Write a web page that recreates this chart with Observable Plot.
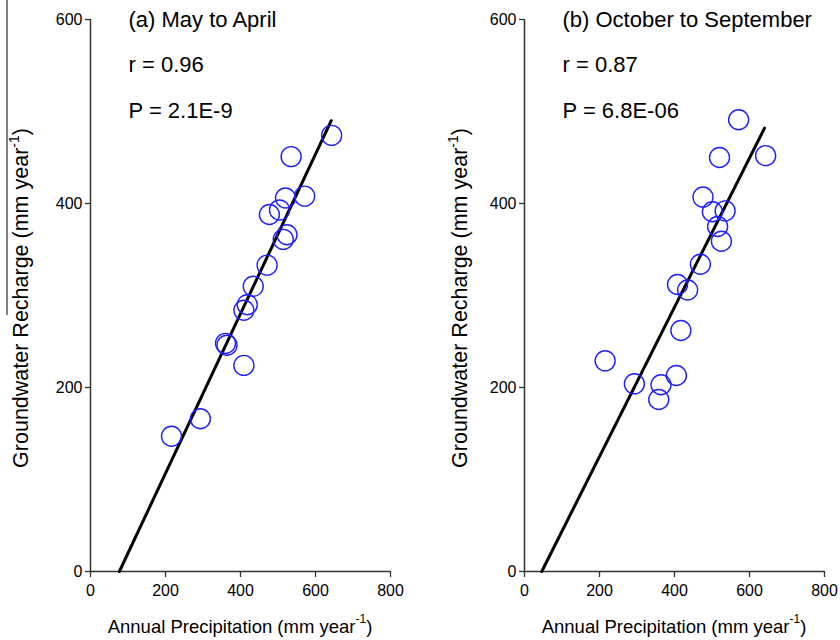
<!DOCTYPE html>
<html>
<head>
<meta charset="utf-8">
<script src="https://cdn.jsdelivr.net/npm/d3@7"></script>
<script src="https://cdn.jsdelivr.net/npm/@observablehq/plot@0.6"></script>
<style>
  html, body { margin: 0; padding: 0; background: #fff; }
  #wrap { display: flex; flex-direction: row; width: 840px; height: 640px; }
  svg { font-family: "Liberation Sans", Arial, sans-serif; }
</style>
</head>
<body>
<div id="wrap"></div>
<script>
// ---- Data ----
// Panel (a) May to April
const precipA   = [643, 535, 520, 571, 504, 477, 524, 514, 471, 434, 418, 409, 360, 364, 409, 293, 216];
const rechargeA = [474, 451, 406, 408, 393, 388, 366, 361, 333, 310, 290, 284, 248, 246, 224, 166, 147];
const fitA_x = [77, 642];
const fitA_y = [0, 490];

// Panel (b) October to September
const precipB   = [571, 643, 520, 476, 501, 535, 515, 525, 469, 408, 435, 417, 215, 293, 405, 364, 358];
const rechargeB = [491, 452, 450, 407, 391, 392, 375, 359, 334, 312, 306, 262, 229, 204, 213, 203, 187];
const fitB_x = [46, 640];
const fitB_y = [0, 482];

const xTicks = [0, 200, 400, 600, 800];
const yTicks = [0, 200, 400, 600];

const titles = ["(a) May to April", "(b) October to September"];
const rLabels = ["r = 0.96", "r = 0.87"];
const pLabels = ["P = 2.1E-9", "P = 6.8E-06"];
const xLabel = ["Annual Precipitation (mm year", "-1", ")"];
const yLabel = ["Groundwater Recharge (mm year", "-1", ")"];

function addLabel(svg, parts, x, y, rotate, size) {
  const t = d3.select(svg).append("text")
    .attr("transform", `translate(${x},${y})${rotate ? " rotate(-90)" : ""}`)
    .attr("text-anchor", "middle")
    .attr("dominant-baseline", "central")
    .attr("font-size", size)
    .attr("fill", "#000");
  t.append("tspan").text(parts[0]);
  t.append("tspan").attr("dy", -7).attr("font-size", size * 0.65).text(parts[1]);
  t.append("tspan").attr("dy", 7).text(parts[2]);
}

function panel(i, precip, recharge, fx, fy, ml, mr, yLabX) {
  const pts = precip.map((x, k) => ({x, y: recharge[k]}));
  const fit = fx.map((x, k) => ({x, y: fy[k]}));
  const svg = Plot.plot({
    width: 420, height: 640,
    marginTop: 19, marginBottom: 69, marginLeft: ml, marginRight: mr,
    style: {background: "#fff", color: "#000", overflow: "visible"},
    x: {domain: [0, 800]},
    y: {domain: [0, 600]},
    marks: [
      Plot.ruleY([0], {x1: 0, x2: 800, stroke: "#333", strokeWidth: 1.5}),
      Plot.ruleX([0], {y1: 0, y2: 600, stroke: "#333", strokeWidth: 1.5}),
      Plot.axisX({ticks: xTicks, tickSize: 6, label: null, stroke: "#333", strokeWidth: 1.3, tickFormat: () => ""}),
      Plot.axisY({ticks: yTicks, tickSize: 5, label: null, stroke: "#333", strokeWidth: 1.3, tickFormat: () => ""}),
      Plot.text(xTicks, {x: d => d, frameAnchor: "bottom", dy: 19, lineAnchor: "middle", textAnchor: "middle", fontSize: 16, fill: "#000", text: d => String(d)}),
      Plot.text(yTicks, {y: d => d, frameAnchor: "left", dx: -8, lineAnchor: "middle", textAnchor: "end", fontSize: 16, fill: "#000", text: d => String(d)}),
      Plot.line(fit, {x: "x", y: "y", stroke: "#000", strokeWidth: 3}),
      Plot.dot(pts, {x: "x", y: "y", r: 10, stroke: "#1f1fff", strokeWidth: 1.4, fill: "none"}),
      Plot.text([titles[i]], {frameAnchor: "top-left", dx: 38, dy: 0, lineAnchor: "middle", textAnchor: "start", fontSize: 22, fill: "#000"}),
      Plot.text([rLabels[i]], {frameAnchor: "top-left", dx: 38, dy: 45, lineAnchor: "middle", textAnchor: "start", fontSize: 22, fill: "#000"}),
      Plot.text([pLabels[i]], {frameAnchor: "top-left", dx: 38, dy: 91, lineAnchor: "middle", textAnchor: "start", fontSize: 22, fill: "#000"})
    ]
  });
  const axisMid = ml + (420 - ml - mr) / 2;
  addLabel(svg, xLabel, axisMid, 626, false, 18.5);
  addLabel(svg, yLabel, yLabX, 298, true, 21.5);
  return svg;
}

const wrap = document.getElementById("wrap");
const svgA = panel(0, precipA, rechargeA, fitA_x, fitA_y, 90, 30, 21);
const svgB = panel(1, precipB, rechargeB, fitB_x, fitB_y, 104, 16, 40);
// thin stray vertical rule seen at the left edge of the reference
d3.select(svgA).append("line").attr("x1", 7).attr("x2", 7).attr("y1", 0).attr("y2", 315)
  .attr("stroke", "#000").attr("stroke-width", 1);
wrap.appendChild(svgA);
wrap.appendChild(svgB);
</script>
</body>
</html>
